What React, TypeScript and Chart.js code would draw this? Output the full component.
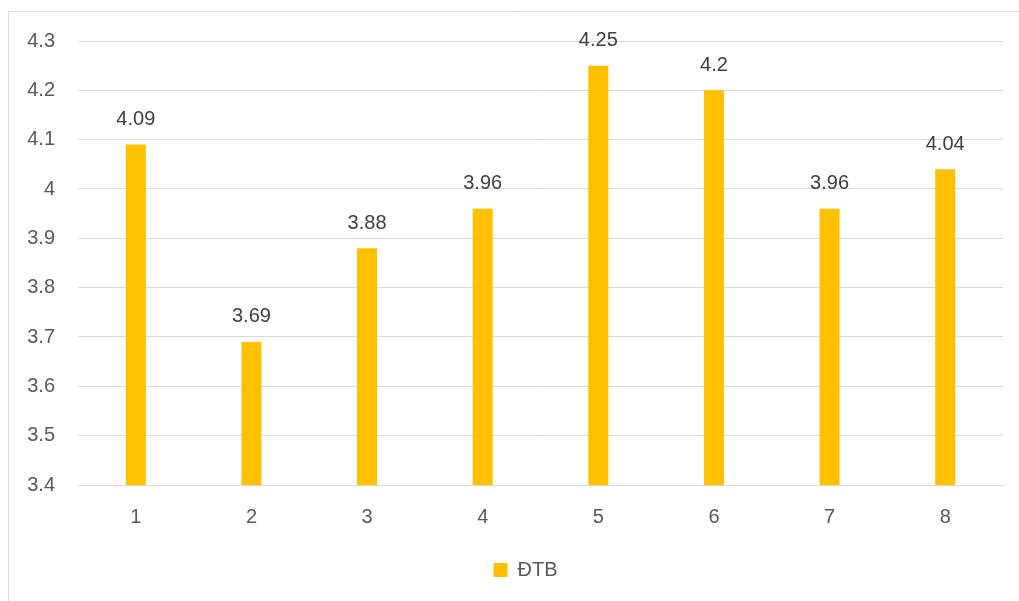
import React, { useEffect, useRef } from "react";
import { Chart, registerables } from "chart.js";

Chart.register(...registerables);

const categories = ["1", "2", "3", "4", "5", "6", "7", "8"];
const seriesName = "ĐTB";
const dtbValues = [4.09, 3.69, 3.88, 3.96, 4.25, 4.2, 3.96, 4.04];
const yMin = 3.4;
const yMax = 4.3;
const yStep = 0.1;

const FONT = "'Liberation Sans', Arial, sans-serif";

// Writes each bar's value above it
const valueLabels = {
  id: "valueLabels",
  afterDatasetsDraw(chart: any) {
    const { ctx } = chart;
    const meta = chart.getDatasetMeta(0);
    const data = chart.data.datasets[0].data as number[];
    ctx.save();
    ctx.font = `20px ${FONT}`;
    ctx.fillStyle = "#404040";
    ctx.textAlign = "center";
    ctx.textBaseline = "middle";
    meta.data.forEach((bar: any, i: number) => {
      ctx.fillText(String(data[i]), bar.x, bar.y - 25);
    });
    ctx.restore();
  },
};

// Centres the legend within the full outlined frame rather than the canvas
const legendShift = {
  id: "legendShift",
  afterLayout(chart: any) {
    const lg = chart.legend;
    if (lg) {
      lg.left += 20;
      lg.right += 20;
    }
  },
};

// Light outline around the chart area of the sheet
const frame = {
  id: "frame",
  beforeDraw(chart: any) {
    const { ctx } = chart;
    ctx.save();
    ctx.strokeStyle = "#d9d9d9";
    ctx.lineWidth = 1;
    ctx.beginPath();
    ctx.moveTo(8.5, chart.height + 10);
    ctx.lineTo(8.5, 11.5);
    ctx.lineTo(chart.width + 10, 11.5);
    ctx.stroke();
    ctx.restore();
  },
};

export default function App() {
  const ref = useRef<HTMLCanvasElement>(null);

  useEffect(() => {
    if (!ref.current) return;
    const chart = new Chart(ref.current, {
      type: "bar",
      data: {
        labels: categories,
        datasets: [
          {
            label: seriesName,
            data: dtbValues,
            backgroundColor: "#FFC000",
            borderWidth: 0,
            barPercentage: 0.173,
            categoryPercentage: 1,
          },
        ],
      },
      options: {
        responsive: false,
        animation: false,
        layout: { padding: { left: 8, top: 41, right: 16, bottom: 11 } },
        plugins: {
          tooltip: { enabled: false },
          legend: {
            position: "bottom",
            labels: {
              boxWidth: 14,
              boxHeight: 14,
              color: "#595959",
              font: { family: FONT, size: 20 },
              padding: 12,
            },
          },
        },
        scales: {
          x: {
            grid: { display: false, drawTicks: false },
            border: { display: true, color: "#d9d9d9" },
            ticks: {
              color: "#595959",
              font: { family: FONT, size: 20 },
              padding: 20,
            },
            afterFit(scale: any) {
              scale.height = 63;
            },
          },
          y: {
            min: yMin,
            max: yMax,
            grid: { color: "#d9d9d9", drawTicks: false },
            border: { display: false },
            ticks: {
              stepSize: yStep,
              color: "#595959",
              font: { family: FONT, size: 20 },
              padding: 23,
              callback: (v: any) => String(Math.round(Number(v) * 10) / 10),
            },
            afterFit(scale: any) {
              scale.width = 70;
            },
          },
        },
      },
      plugins: [frame, legendShift, valueLabels],
    });
    return () => chart.destroy();
  }, []);

  return (
    <div style={{ position: "absolute", left: 0, top: 0, width: 1019, height: 601, background: "#fff" }}>
      <canvas ref={ref} width={1019} height={601} />
    </div>
  );
}
